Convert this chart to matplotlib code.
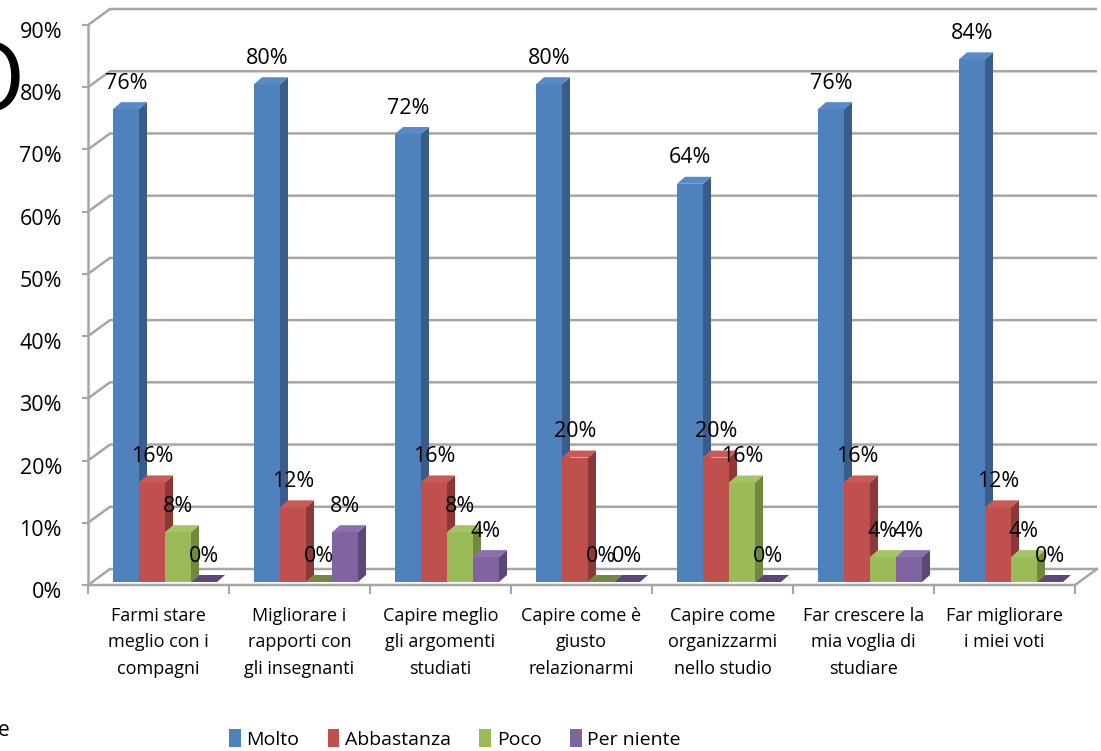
import matplotlib
matplotlib.use("Agg")
import matplotlib.pyplot as plt
from matplotlib.patches import Polygon, Patch
import numpy as np

# ---------------- data ----------------
categories = [
    "Farmi stare\nmeglio con i\ncompagni",
    "Migliorare i\nrapporti con\ngli insegnanti",
    "Capire meglio\ngli argomenti\nstudiati",
    "Capire come è\ngiusto\nrelazionarmi",
    "Capire come\norganizzarmi\nnello studio",
    "Far crescere la\nmia voglia di\nstudiare",
    "Far migliorare\ni miei voti",
]
series_names = ["Molto", "Abbastanza", "Poco", "Per niente"]
molto = [76, 80, 72, 80, 64, 76, 84]
abbastanza = [16, 12, 16, 20, 20, 16, 12]
poco = [8, 0, 8, 0, 16, 4, 4]
per_niente = [0, 8, 4, 0, 0, 4, 0]
y_ticks = [0, 10, 20, 30, 40, 50, 60, 70, 80, 90]

series_values = [molto, abbastanza, poco, per_niente]
front_colors = ["#4F81BD", "#C0504D", "#9BBB59", "#8064A2"]
side_colors = ["#385D8A", "#8C3836", "#71893F", "#5C4776"]
top_colors = ["#5A8AC6", "#C85B58", "#A5C466", "#8B70AC"]

# ---------------- figure ----------------
W, H, DPI = 1101, 751, 100
fig = plt.figure(figsize=(W / DPI, H / DPI), dpi=DPI)
ax = fig.add_axes([0, 0, 1, 1])
ax.set_axis_off()

PX_CAT = 141.0          # pixels per category
PX_PCT = 6.222          # pixels per percent
x0_px, y0_px = 158.5, 585.0   # centre of first category, 0% on front plane
ax.set_xlim(-x0_px / PX_CAT, (W - x0_px) / PX_CAT)
ax.set_ylim(-(H - y0_px) / PX_PCT, y0_px / PX_PCT)

FONT = "Open Sans"
plt.rcParams["font.family"] = [FONT, "DejaVu Sans"]

n_cat = len(categories)
xs = np.arange(n_cat)

# 3-D box depth (data units)
box_dx, box_dy = 22 / PX_CAT, 16 / PX_PCT
left = -0.5
right = n_cat - 0.5
grid_col = "#A6A6A6"

# side-wall diagonals + back-wall gridlines
for v in y_ticks:
    ax.plot([left, left + box_dx, right + box_dx], [v, v + box_dy, v + box_dy],
            color=grid_col, lw=1.8, solid_capstyle="butt", zorder=1)
# floor
ax.plot([left, right, right + box_dx], [0, 0, box_dy], color=grid_col, lw=1.8, zorder=1)
# vertical axis line
ax.plot([left, left], [0, y_ticks[-1]], color=grid_col, lw=1.8, zorder=1)
# tick marks on value axis
for v in y_ticks:
    ax.plot([left - 5 / PX_CAT, left], [v, v], color=grid_col, lw=1.5, zorder=1)
# category tick marks
for i in range(n_cat + 1):
    ax.plot([left + i, left + i], [0, -8 / PX_PCT], color=grid_col, lw=1.5, zorder=1)

# y tick labels
for v in y_ticks:
    ax.text((62 - x0_px) / PX_CAT, v - 1.2, f"{v}%", ha="right", va="center",
            fontsize=15.5, color="black")

# category labels
for i, c in enumerate(categories):
    ax.text(xs[i], -22 / PX_PCT, c, ha="center", va="top", fontsize=13,
            linespacing=1.6, color="black")

# bars (pseudo 3-D)
bw = 26 / PX_CAT
g_dx = 6.5 / PX_CAT
g_dy = 3 / PX_PCT
b_dx, b_dy = 8 / PX_CAT, 7 / PX_PCT
handles = []
for k, (vals, fc, sc, tc, name) in enumerate(zip(series_values, front_colors, side_colors,
                                                top_colors, series_names)):
    centers = xs + (k - 1.5) * bw + g_dx
    z = 3 + k
    bars = ax.bar(centers, vals, width=bw, bottom=g_dy, color=fc, edgecolor="none",
                  zorder=z, label=name)
    handles.append(Patch(facecolor=fc, edgecolor="none", label=name))
    for cx, v in zip(centers, vals):
        xl, xr = cx - bw / 2, cx + bw / 2
        yb, yt = g_dy, g_dy + v
        side = Polygon([(xr, yb), (xr, yt), (xr + b_dx, yt + b_dy), (xr + b_dx, yb + b_dy)],
                       closed=True, facecolor=sc, edgecolor="none", zorder=z)
        top = Polygon([(xl, yt), (xr, yt), (xr + b_dx, yt + b_dy), (xl + b_dx, yt + b_dy)],
                      closed=True, facecolor=tc if v > 0 else sc, edgecolor="none", zorder=z)
        ax.add_patch(side)
        ax.add_patch(top)
        ax.text(cx, yt + 26 / PX_PCT, f"{v}%", ha="center", va="center",
                fontsize=15.5, color="black", zorder=20)

# legend
leg = fig.legend(handles=handles, loc="center", ncol=4,
                 bbox_to_anchor=(455 / W, 1 - 739 / H), frameon=False,
                 fontsize=14, handlelength=0.6, handleheight=1.0,
                 handletextpad=0.3, columnspacing=1.45, borderaxespad=0)

# stray partial glyphs at the edges
fig.text(25 / W, 1 - 86 / H, "O", ha="right", va="center", fontsize=70, color="black")
fig.text(-2 / W, 1 - 731 / H, "e", ha="left", va="center", fontsize=15, color="black")

fig.savefig("out.png", dpi=DPI)
